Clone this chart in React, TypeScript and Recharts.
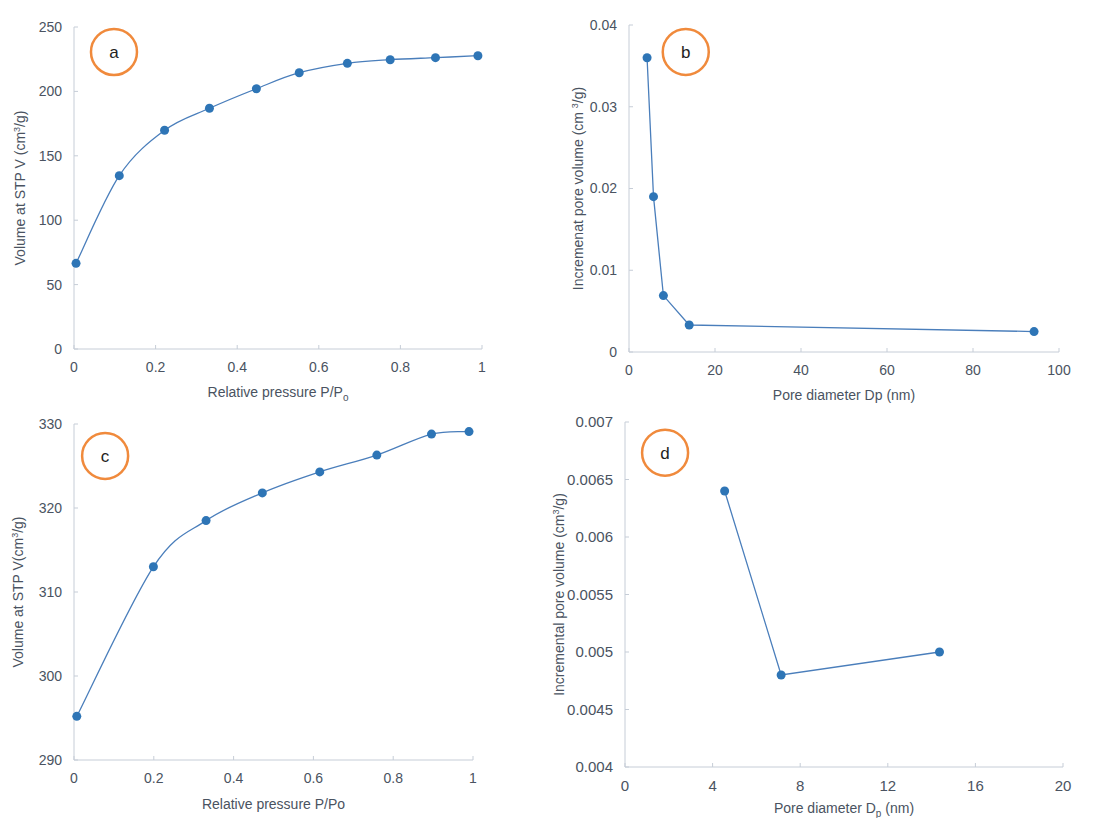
import React from "react";
import { LineChart, Line, XAxis, YAxis, ReferenceDot, Label } from "recharts";

// (a) nitrogen isotherm, sample 1
const isoAPressure = [0.005, 0.111, 0.222, 0.332, 0.447, 0.552, 0.67, 0.775, 0.886, 0.99];
const isoAVolume = [66.5, 134.6, 169.8, 186.9, 202.1, 214.5, 221.8, 224.6, 226.2, 227.7];

// (b) pore size distribution, sample 1
const poreBDiameter = [4.2, 5.7, 8.0, 14.0, 94.2];
const poreBVolume = [0.036, 0.019, 0.0069, 0.0033, 0.0025];

// (c) nitrogen isotherm, sample 2
const isoCPressure = [0.007, 0.199, 0.331, 0.472, 0.616, 0.759, 0.896, 0.99];
const isoCVolume = [295.2, 313.0, 318.5, 321.8, 324.3, 326.3, 328.8, 329.1];

// (d) pore size distribution, sample 2
const poreDDiameter = [4.55, 7.13, 14.36];
const poreDVolume = [0.0064, 0.0048, 0.005];

const pressureTicks = [0, 0.2, 0.4, 0.6, 0.8, 1];
const isoATicks = [0, 50, 100, 150, 200, 250];
const poreBXTicks = [0, 20, 40, 60, 80, 100];
const poreBYTicks = [0, 0.01, 0.02, 0.03, 0.04];
const isoCTicks = [290, 300, 310, 320, 330];
const poreDXTicks = [0, 4, 8, 12, 16, 20];
const poreDYTicks = [0.004, 0.0045, 0.005, 0.0055, 0.006, 0.0065, 0.007];

const FONT = "'Liberation Sans', Arial, sans-serif";
const INK = "#4a5361";
const AXIS = "#c6cdd7";
const LINE = "#4a7ebb";
const DOT = "#2e75b6";
const RING = "#f08a3c";
const TS = 6;
const TM = 6;

const zip = (xs: number[], ys: number[]) => xs.map((x, i) => ({ x, y: ys[i] }));

// spreadsheet-style smoothed line: uniform Catmull-Rom as cubic beziers
const smoothCurve = (ctx: any) => {
  let pts: [number, number][] = [];
  return {
    areaStart() {},
    areaEnd() {},
    lineStart() {
      pts = [];
    },
    point(x: number, y: number) {
      pts.push([+x, +y]);
    },
    lineEnd() {
      if (!pts.length) return;
      ctx.moveTo(pts[0][0], pts[0][1]);
      for (let i = 0; i < pts.length - 1; i++) {
        const p0 = pts[Math.max(i - 1, 0)];
        const p1 = pts[i];
        const p2 = pts[i + 1];
        const p3 = pts[Math.min(i + 2, pts.length - 1)];
        ctx.bezierCurveTo(
          p1[0] + (p2[0] - p0[0]) / 6,
          p1[1] + (p2[1] - p0[1]) / 6,
          p2[0] - (p3[0] - p1[0]) / 6,
          p2[1] - (p3[1] - p1[1]) / 6,
          p2[0],
          p2[1]
        );
      }
    },
  };
};

function XTick(props: any) {
  const { x, y, payload, size = 14 } = props;
  const axisY = y - TS - TM;
  return (
    <g>
      <line x1={x} x2={x} y1={axisY} y2={axisY - 4} stroke={AXIS} />
      <text x={x} y={axisY + 13} dy="0.71em" textAnchor="middle" fill={INK} fontSize={size} fontFamily={FONT}>
        {String(payload.value)}
      </text>
    </g>
  );
}

function YTick(props: any) {
  const { x, y, payload, size = 14 } = props;
  const axisX = x + TS + TM;
  return (
    <g>
      <line x1={axisX} x2={axisX + 4} y1={y} y2={y} stroke={AXIS} />
      <text x={x} y={y} dy="0.35em" textAnchor="end" fill={INK} fontSize={size} fontFamily={FONT}>
        {String(payload.value)}
      </text>
    </g>
  );
}

const xTitle = (node: React.ReactNode, drop: number) => (props: any) => {
  const vb = props.viewBox;
  return (
    <text x={vb.x + vb.width / 2} y={vb.y + drop} textAnchor="middle" fill={INK} fontSize={14} fontFamily={FONT}>
      {node}
    </text>
  );
};

const yTitle = (node: React.ReactNode, off: number) => (props: any) => {
  const vb = props.viewBox;
  const tx = vb.x + vb.width - off;
  const ty = vb.y + vb.height / 2;
  return (
    <text
      x={tx}
      y={ty}
      dy="0.35em"
      transform={`rotate(-90 ${tx} ${ty})`}
      textAnchor="middle"
      fill={INK}
      fontSize={14}
      fontFamily={FONT}
    >
      {node}
    </text>
  );
};

const cm3 = (lead: string) => (
  <>
    {lead}
    <tspan dy={-5} fontSize={9}>3</tspan>
    <tspan dy={5}>/g)</tspan>
  </>
);

type PanelProps = {
  left: number;
  top: number;
  margin: { top: number; right: number; left: number; bottom: number };
  yWidth: number;
  xHeight: number;
  data: { x: number; y: number }[];
  xDomain: [number, number];
  xTicks: number[];
  yDomain: [number, number];
  yTicks: number[];
  smooth: boolean;
  tickFont?: number;
  xLabel: React.ReactNode;
  xDrop: number;
  yLabel: React.ReactNode;
  yOff: number;
  tag: string;
  tagAt: [number, number];
};

function Panel(p: PanelProps) {
  const tf = p.tickFont ?? 14;
  return (
    <div style={{ position: "absolute", left: p.left, top: p.top }}>
      <LineChart width={551} height={409} data={p.data} margin={p.margin}>
        <XAxis
          dataKey="x"
          type="number"
          domain={p.xDomain}
          ticks={p.xTicks}
          height={p.xHeight}
          stroke={AXIS}
          tickLine={false}
          tickSize={TS}
          tickMargin={TM}
          tick={<XTick size={tf} />}
          interval={0}
        >
          <Label content={xTitle(p.xLabel, p.xDrop)} />
        </XAxis>
        <YAxis
          type="number"
          domain={p.yDomain}
          ticks={p.yTicks}
          width={p.yWidth}
          stroke={AXIS}
          tickLine={false}
          tickSize={TS}
          tickMargin={TM}
          tick={<YTick size={tf} />}
          interval={0}
        >
          <Label content={yTitle(p.yLabel, p.yOff)} />
        </YAxis>
        <Line
          dataKey="y"
          type={(p.smooth ? smoothCurve : "linear") as any}
          stroke={LINE}
          strokeWidth={1.3}
          dot={{ r: 4.5, fill: DOT, stroke: DOT, strokeWidth: 0 }}
          activeDot={false}
          isAnimationActive={false}
        />
        <ReferenceDot
          x={p.tagAt[0]}
          y={p.tagAt[1]}
          r={23}
          fill="#fff"
          stroke={RING}
          strokeWidth={2.5}
          ifOverflow="visible"
          label={{ value: p.tag, position: "center", fill: "#222", fontSize: 17, fontFamily: FONT }}
        />
      </LineChart>
    </div>
  );
}

export default function App() {
  return (
    <div style={{ position: "absolute", left: 0, top: 0, width: 1102, height: 818, background: "#fff" }}>
      <Panel
        left={0}
        top={0}
        margin={{ top: 27, right: 69, left: 0, bottom: 0 }}
        yWidth={74}
        xHeight={60}
        data={zip(isoAPressure, isoAVolume)}
        xDomain={[0, 1]}
        xTicks={pressureTicks}
        yDomain={[0, 250]}
        yTicks={isoATicks}
        smooth
        xLabel={
          <>
            Relative pressure P/P
            <tspan dy={4} fontSize={10}>o</tspan>
          </>
        }
        xDrop={48}
        yLabel={cm3("Volume at STP V (cm")}
        yOff={54}
        tag="a"
        tagAt={[0.098, 230.6]}
      />
      <Panel
        left={551}
        top={0}
        margin={{ top: 25, right: 43, left: 0, bottom: 0 }}
        yWidth={78}
        xHeight={57}
        data={zip(poreBDiameter, poreBVolume)}
        xDomain={[0, 100]}
        xTicks={poreBXTicks}
        yDomain={[0, 0.04]}
        yTicks={poreBYTicks}
        smooth={false}
        xLabel="Pore diameter Dp (nm)"
        xDrop={48}
        yLabel={cm3("Incremenat pore volume (cm ")}
        yOff={51}
        tag="b"
        tagAt={[13.2, 0.0367]}
      />
      <Panel
        left={0}
        top={409}
        margin={{ top: 15, right: 78, left: 0, bottom: 0 }}
        yWidth={74}
        xHeight={58}
        data={zip(isoCPressure, isoCVolume)}
        xDomain={[0, 1]}
        xTicks={pressureTicks}
        yDomain={[290, 330]}
        yTicks={isoCTicks}
        smooth
        xLabel="Relative pressure P/Po"
        xDrop={49}
        yLabel={cm3("Volume at STP V(cm")}
        yOff={56}
        tag="c"
        tagAt={[0.078, 326.2]}
      />
      <Panel
        left={551}
        top={409}
        margin={{ top: 13, right: 39, left: 0, bottom: 0 }}
        yWidth={74}
        xHeight={51}
        data={zip(poreDDiameter, poreDVolume)}
        xDomain={[0, 20]}
        xTicks={poreDXTicks}
        yDomain={[0.004, 0.007]}
        yTicks={poreDYTicks}
        smooth={false}
        tickFont={15}
        xLabel={
          <>
            Pore diameter D
            <tspan dy={4} fontSize={10}>p</tspan>
            <tspan dy={-4}> (nm)</tspan>
          </>
        }
        xDrop={46}
        yLabel={cm3("Incremental pore volume (cm")}
        yOff={66}
        tag="d"
        tagAt={[1.83, 0.006733]}
      />
    </div>
  );
}
